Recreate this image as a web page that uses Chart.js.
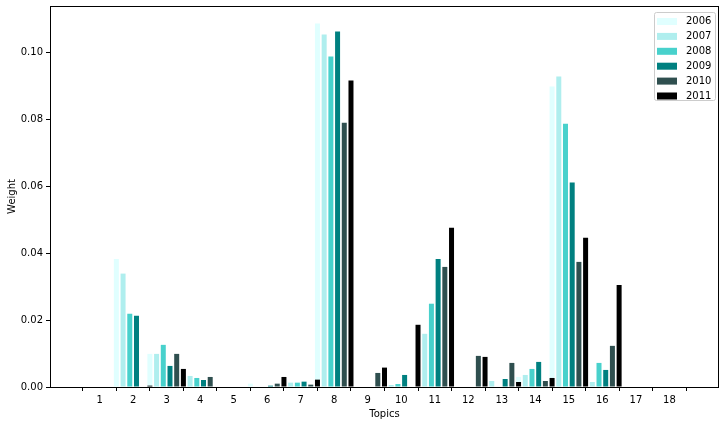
<!DOCTYPE html>
<html>
<head>
<meta charset="utf-8">
<script src="https://cdn.jsdelivr.net/npm/chart.js@4.4.0/dist/chart.umd.min.js"></script>
<style>
  html, body { margin: 0; padding: 0; background: #fff; }
  #wrap { width: 727px; height: 425px; position: relative; }
</style>
</head>
<body>
<div id="wrap"><canvas id="myChart"></canvas></div>
<script>
const topics = [1, 2, 3, 4, 5, 6, 7, 8, 9, 10, 11, 12, 13, 14, 15, 16, 17, 18];
const years = ['2006', '2007', '2008', '2009', '2010', '2011'];

const w2006 = [0, 0.0383, 0.0099, 0, 0, 0.0010, 0, 0.1087, 0, 0, 0, 0, 0, 0.0030, 0.0898, 0, 0, 0];
const w2007 = [0, 0.0339, 0.0099, 0.0033, 0, 0, 0.0013, 0.1054, 0, 0.0006, 0.0159, 0, 0.0018, 0.0036, 0.0928, 0.0015, 0, 0];
const w2008 = [0, 0.0219, 0.0126, 0.0027, 0, 0, 0.0013, 0.0988, 0, 0.0009, 0.0249, 0, 0, 0.0054, 0.0787, 0.0072, 0, 0];
const w2009 = [0, 0.0213, 0.0063, 0.0021, 0, 0.0004, 0.0016, 0.1063, 0, 0.0036, 0.0383, 0, 0.0024, 0.0075, 0.0611, 0.0051, 0, 0];
const w2010 = [0, 0, 0.0099, 0.0030, 0, 0.0010, 0.0007, 0.0790, 0.0042, 0, 0.0359, 0.0093, 0.0072, 0.0018, 0.0374, 0.0123, 0, 0];
const w2011 = [0, 0.0004, 0.0054, 0, 0, 0.0030, 0.0022, 0.0916, 0.0058, 0.0186, 0.0476, 0.0090, 0.0015, 0.0027, 0.0446, 0.0305, 0, 0];

const yTicks = [0, 0.02, 0.04, 0.06, 0.08, 0.10];

const series = [w2006, w2007, w2008, w2009, w2010, w2011];
const colors = ['#e0ffff', '#afeeee', '#48d1cc', '#008080', '#2f4f4f', '#000000'];
// each year sits 0.2 further right, first one half a topic left of the tick
const offsets = [-0.5, -0.3, -0.1, 0.1, 0.3, 0.5];

const FONT = 'DejaVu Sans';

function buildDatasets() {
    return series.map(function (vals, k) {
        return {
            label: years[k],
            data: topics.map(function (t, i) { return { x: t + offsets[k], y: vals[i] }; }),
            backgroundColor: colors[k],
            borderWidth: 0,
            inflateAmount: 0,
            barThickness: 5,
            grouped: false,
            order: series.length - k   // later years painted on top, like matplotlib
        };
    });
}

// frame + legend, matplotlib style
const boxPlugin = {
    id: 'boxPlugin',
    afterDraw(chart) {
        const ctx = chart.ctx;
        const a = chart.chartArea;
        ctx.save();
        ctx.strokeStyle = '#000';
        ctx.lineWidth = 1;
        ctx.strokeRect(Math.round(a.left) + 0.5, Math.round(a.top) + 0.5,
            Math.round(a.right - a.left) - 1, Math.round(a.bottom - a.top));

        const bw = 61, bh = 88;
        const bx = a.right - 4 - bw, by = a.top + 6;
        ctx.fillStyle = 'rgba(255,255,255,0.8)';
        ctx.strokeStyle = '#cccccc';
        ctx.beginPath();
        ctx.roundRect(bx + 0.5, by + 0.5, bw, bh, 2);
        ctx.fill();
        ctx.stroke();

        ctx.font = '10px "' + FONT + '"';
        ctx.textBaseline = 'middle';
        chart.data.datasets.forEach(function (ds, i) {
            const cy = by + 9 + i * 14.9;
            ctx.fillStyle = ds.backgroundColor;
            ctx.fillRect(bx + 3, cy - 3, 20, 7);
            ctx.fillStyle = '#000';
            ctx.fillText(ds.label, bx + 32, cy + 0.5);
        });
        ctx.restore();
    }
};

const ctx = document.getElementById('myChart');

new Chart(ctx, {
    type: 'bar',
    data: {
        datasets: buildDatasets()
    },
    plugins: [boxPlugin],
    options: {
        responsive: true,
        maintainAspectRatio: false,
        animation: false,
        layout: {
            padding: { top: 6, right: 8, left: 0, bottom: 0 }
        },
        plugins: {
            legend: { display: false },
            tooltip: { enabled: false }
        },
        scales: {
            x: {
                type: 'linear',
                min: -0.48,
                max: 19.48,
                offset: false,
                afterBuildTicks: function (scale) {
                    scale.ticks = topics.map(function (t) { return { value: t }; });
                },
                afterFit: function (scale) {
                    scale.height = 38;
                    scale.paddingLeft = 0;
                    scale.paddingRight = 0;
                },
                ticks: {
                    autoSkip: false,
                    maxRotation: 0,
                    padding: 3,
                    color: '#000',
                    font: { family: FONT, size: 10 },
                    callback: function (v) { return String(v); }
                },
                grid: {
                    drawOnChartArea: false,
                    tickLength: 4,
                    color: '#000'
                },
                border: { display: false },
                title: {
                    display: true,
                    text: 'Topics',
                    color: '#000',
                    font: { family: FONT, size: 10 },
                    padding: { top: 2, bottom: 5 }
                }
            },
            y: {
                min: 0,
                max: 0.1139,
                afterBuildTicks: function (scale) {
                    scale.ticks = yTicks.map(function (v) { return { value: v }; });
                },
                afterFit: function (scale) {
                    scale.width = 50;
                    scale.paddingTop = 0;
                    scale.paddingBottom = 0;
                },
                ticks: {
                    padding: 3,
                    color: '#000',
                    font: { family: FONT, size: 10 },
                    callback: function (v) { return Number(v).toFixed(2); }
                },
                grid: {
                    drawOnChartArea: false,
                    tickLength: 4,
                    color: '#000'
                },
                border: { display: false },
                title: {
                    display: true,
                    text: 'Weight',
                    color: '#000',
                    font: { family: FONT, size: 10 },
                    padding: { top: 6, bottom: 2 }
                }
            }
        }
    }
});
</script>
</body>
</html>
